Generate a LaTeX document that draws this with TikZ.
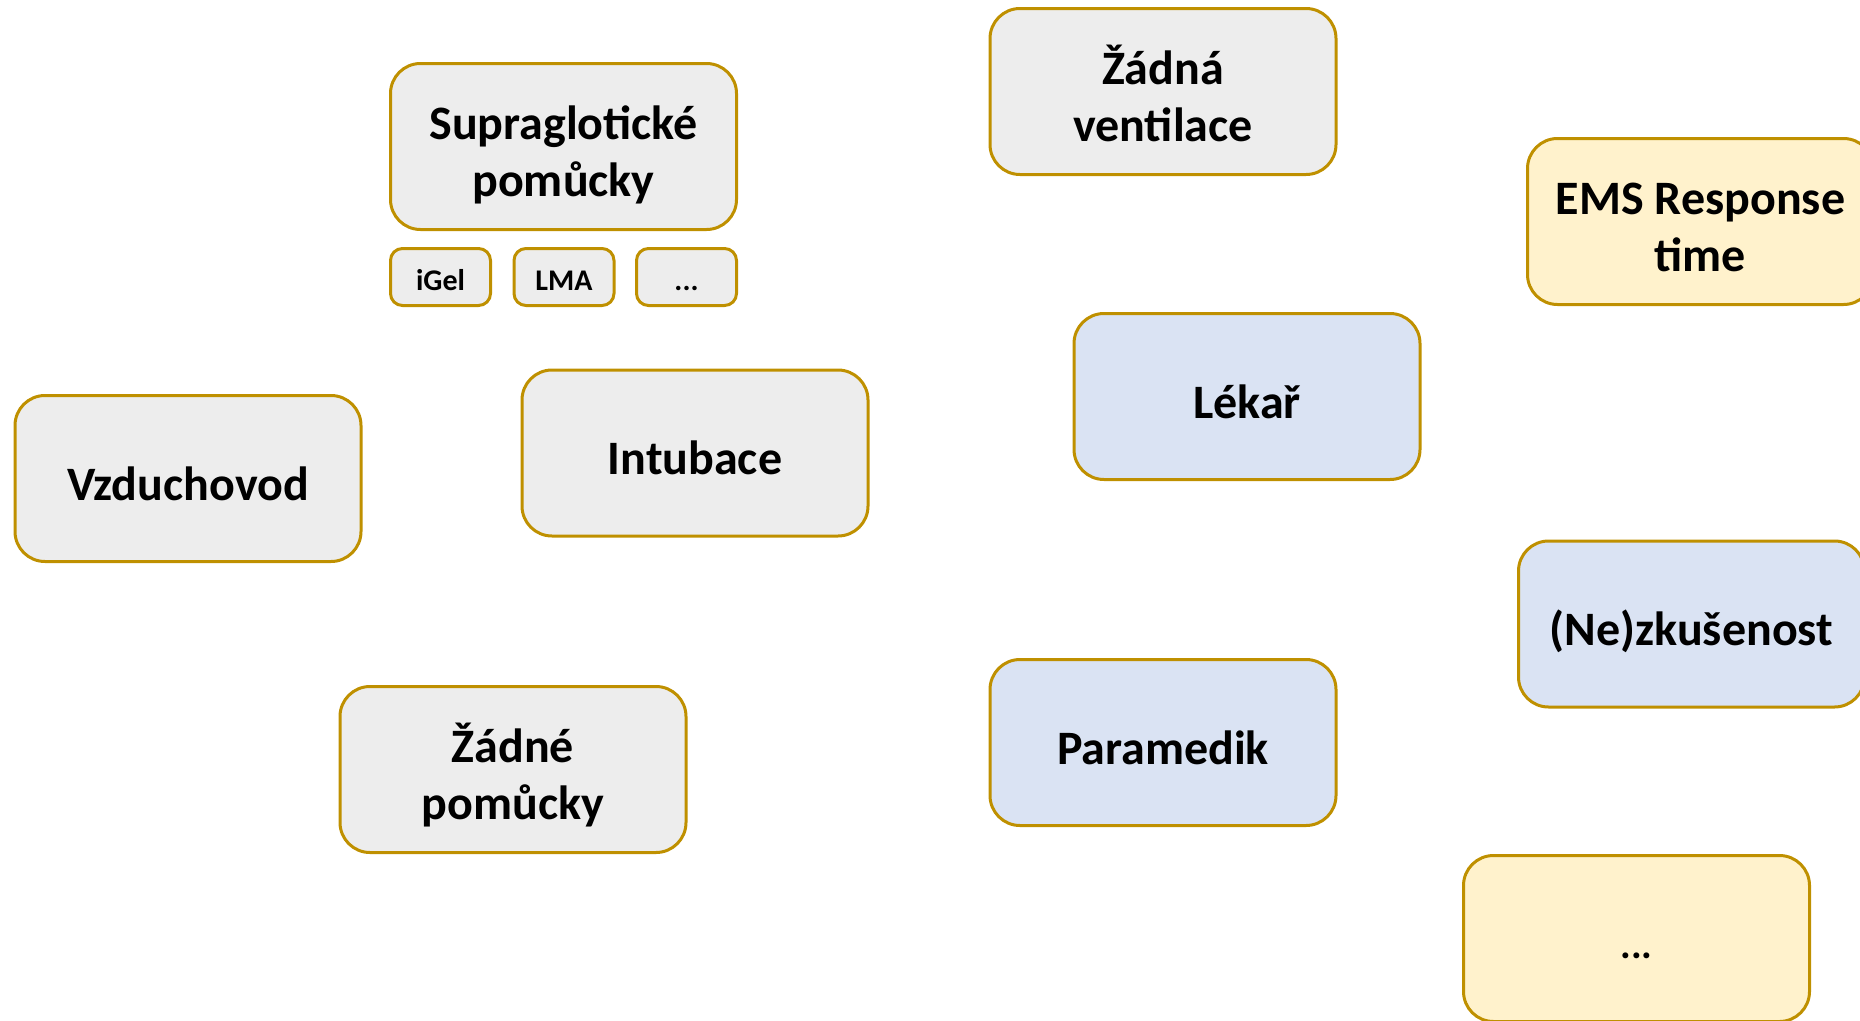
\documentclass[tikz,border=0pt]{standalone}
\usepackage{fontspec}
\setmainfont{Carlito}
\definecolor{gold}{HTML}{BF9000}
\definecolor{greyfill}{HTML}{EDEDED}
\definecolor{bluefill}{HTML}{DAE3F3}
\definecolor{yellowfill}{HTML}{FFF2CC}
\tikzset{
  bigbox/.style={draw=gold, line width=3pt, rounded corners=30pt, minimum width=346pt, minimum height=166pt, align=center, font=\fontsize{48}{57}\selectfont\bfseries, inner sep=0pt, text height=48pt, text depth=5pt},
  twoline/.style={text height=104pt, text depth=5pt},
  smallbox/.style={draw=gold, fill=greyfill, line width=3pt, rounded corners=12pt, minimum width=100pt, minimum height=57pt, font=\fontsize{30}{36}\selectfont\bfseries, inner sep=0pt, text height=29pt, text depth=3pt},
  grey/.style={bigbox, fill=greyfill},
  blue/.style={bigbox, fill=bluefill},
  yellow/.style={bigbox, fill=yellowfill}
}
\begin{document}
\begin{tikzpicture}[x=1pt,y=-1pt]
\useasboundingbox (0,0) rectangle (1860,1020);
\clip (0,0) rectangle (1860,1020);
\node[grey, twoline] (supra) at (563.5,146.5) {Supraglotické\\pomůcky};
\node[smallbox] (igel) at (440.5,277) {iGel};
\node[smallbox] (lma) at (564,277) {LMA};
\node[smallbox] (sdots) at (686.5,277) {...};
\node[grey, twoline] (zv) at (1163,91.5) {Žádná\\ventilace};
\node[yellow, twoline] (ems) at (1700.5,221.5) {EMS Response\\time};
\node[blue] (lekar) at (1247,396.5) {Lékař};
\node[grey] (vzd) at (188,478.5) {Vzduchovod};
\node[grey] (intub) at (695,453) {Intubace};
\node[blue] (nezk) at (1691.5,624) {(Ne)zkušenost};
\node[blue] (param) at (1163,742.5) {Paramedik};
\node[grey, twoline] (zp) at (513,769.5) {Žádné\\pomůcky};
\node[yellow, font=\fontsize{40}{48}\selectfont\bfseries, text height=45pt, text depth=6pt] (bdots) at (1636.5,938.5) {...};
\end{tikzpicture}
\end{document}
